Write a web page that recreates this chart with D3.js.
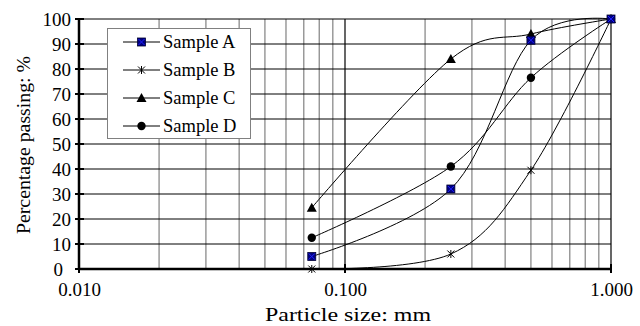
<!DOCTYPE html>
<html><head><meta charset="utf-8">
<script src="https://cdn.jsdelivr.net/npm/d3@7"></script>
<style>body{margin:0;background:#fff}svg{display:block}text{font-family:"Liberation Serif","Times New Roman",serif;fill:#000}</style>
</head><body><svg id="c" width="640" height="326"></svg>
<script>
const sizes = [0.075, 0.25, 0.5, 1.0];
const sampleA = [5, 32, 91.5, 100];
const sampleB = [0, 6, 39.5, 100];
const sampleC = [24.5, 84, 94, 100];
const sampleD = [12.5, 41, 76.5, 100];
const seriesNames = ["Sample A", "Sample B", "Sample C", "Sample D"];
const xTickLabels = ["0.010", "0.100", "1.000"];
const yTicks = [0,10,20,30,40,50,60,70,80,90,100];

const svg = d3.select("#c");
const L = 79, R = 611, T = 19, B = 269;
const x = d3.scaleLog().domain([0.01, 1]).range([L, R]);
const y = d3.scaleLinear().domain([0, 100]).range([B, T]);

// vertical minor grid (gray)
const minor = [];
for (const dec of [0.01, 0.1]) for (let k = 2; k <= 9; k++) minor.push(dec * k);
svg.append("g").selectAll("line").data(minor).join("line")
  .attr("x1", d => x(d)).attr("x2", d => x(d)).attr("y1", T).attr("y2", B)
  .attr("stroke", "#808080").attr("stroke-width", 1.2);
svg.append("g").selectAll("line").data([0.1, 1]).join("line")
  .attr("x1", d => x(d)).attr("x2", d => x(d)).attr("y1", T).attr("y2", B)
  .attr("stroke", "#000").attr("stroke-width", 1.2);
// horizontal grid (black)
svg.append("g").selectAll("line").data(yTicks.filter(d => d > 0)).join("line")
  .attr("x1", L).attr("x2", R).attr("y1", d => y(d)).attr("y2", d => y(d))
  .attr("stroke", "#000").attr("stroke-width", 1);

// axes
const yAxis = d3.axisLeft(y).tickValues(yTicks).tickSize(0).tickPadding(8).tickFormat(d3.format("d"));
const gy = svg.append("g").attr("transform", `translate(${L},0)`).call(yAxis);
gy.select(".domain").remove();
gy.selectAll("text").attr("font-size", 19).filter(d => d === 0).attr("x", -16);
svg.append("g").selectAll("line").data(yTicks).join("line")
  .attr("x1", L - 4).attr("x2", L + 5).attr("y1", d => y(d)).attr("y2", d => y(d))
  .attr("stroke", "#000").attr("stroke-width", 2);

const xAxis = d3.axisBottom(x).tickValues([0.01, 0.1, 1]).tickSize(0).tickPadding(14)
  .tickFormat((d, i) => xTickLabels[i]);
const gx = svg.append("g").attr("transform", `translate(0,${B})`).call(xAxis);
gx.select(".domain").remove();
gx.selectAll("text").attr("font-size", 19);
svg.append("g").selectAll("line").data([0.01, 0.1, 1]).join("line")
  .attr("x1", d => x(d)).attr("x2", d => x(d)).attr("y1", B - 5).attr("y2", B + 4)
  .attr("stroke", "#000").attr("stroke-width", 2);

svg.append("line").attr("x1", L).attr("x2", L).attr("y1", T).attr("y2", B + 1).attr("stroke", "#000").attr("stroke-width", 2.5);
svg.append("line").attr("x1", L - 1).attr("x2", R).attr("y1", B).attr("y2", B).attr("stroke", "#000").attr("stroke-width", 2.5);

// titles
svg.append("text").attr("x", (L + R) / 2 + 3).attr("y", 321).attr("text-anchor", "middle").attr("font-size", 19)
  .attr("textLength", 166).attr("lengthAdjust", "spacingAndGlyphs").text("Particle size: mm");
svg.append("text").attr("transform", `translate(30,${(T + B) / 2 + 1}) rotate(-90)`).attr("text-anchor", "middle").attr("font-size", 19)
  .attr("textLength", 178).attr("lengthAdjust", "spacingAndGlyphs").text("Percentage passing: %");

// marker drawing
function marker(g, type, cx, cy) {
  if (type === 0) {
    g.append("rect").attr("x", cx - 4).attr("y", cy - 4).attr("width", 8).attr("height", 8).attr("fill", "#000080").attr("stroke", "#000033").attr("stroke-width", 0.8);
    g.append("path").attr("d", `M${cx-3},${cy-3}L${cx+3},${cy+3}M${cx-3},${cy+3}L${cx+3},${cy-3}`).attr("stroke", "#2020ff").attr("stroke-width", 1);
  } else if (type === 1) {
    g.append("path").attr("d", `M${cx-3.5},${cy-3.5}L${cx+3.5},${cy+3.5}M${cx-3.5},${cy+3.5}L${cx+3.5},${cy-3.5}M${cx},${cy-4}L${cx},${cy+4}`).attr("stroke", "#000").attr("stroke-width", 1).attr("fill", "none");
  } else if (type === 2) {
    g.append("path").attr("d", `M${cx},${cy-5}L${cx+5},${cy+4}L${cx-5},${cy+4}Z`).attr("fill", "#000");
  } else {
    g.append("circle").attr("cx", cx).attr("cy", cy).attr("r", 4.2).attr("fill", "#000");
  }
}

const allSeries = [sampleA, sampleB, sampleC, sampleD];
const line = d3.line().x(d => x(d[0])).y(d => y(d[1])).curve(d3.curveCatmullRom.alpha(0));
const gl = svg.append("g");
allSeries.forEach((vals, si) => {
  const pts = sizes.map((s, i) => [s, vals[i]]);
  gl.append("path").attr("d", line(pts)).attr("fill", "none").attr("stroke", "#000").attr("stroke-width", 1);
});
const gm = svg.append("g");
[3, 2, 1, 0].forEach(si => {
  sizes.forEach((s, i) => marker(gm, si, x(s), y(allSeries[si][i])));
});

// legend
const lg = svg.append("g");
lg.append("rect").attr("x", 107.5).attr("y", 28.5).attr("width", 143).attr("height", 110).attr("fill", "#fff").attr("stroke", "#808080").attr("stroke-width", 1);
seriesNames.forEach((n, i) => {
  const cy = 42 + i * 28;
  lg.append("line").attr("x1", 123).attr("x2", 160).attr("y1", cy).attr("y2", cy).attr("stroke", "#000").attr("stroke-width", 1);
  marker(lg, i, 141.5, cy);
  lg.append("text").attr("x", 163).attr("y", cy + 6).attr("font-size", 18.5).text(n);
});
</script></body></html>
